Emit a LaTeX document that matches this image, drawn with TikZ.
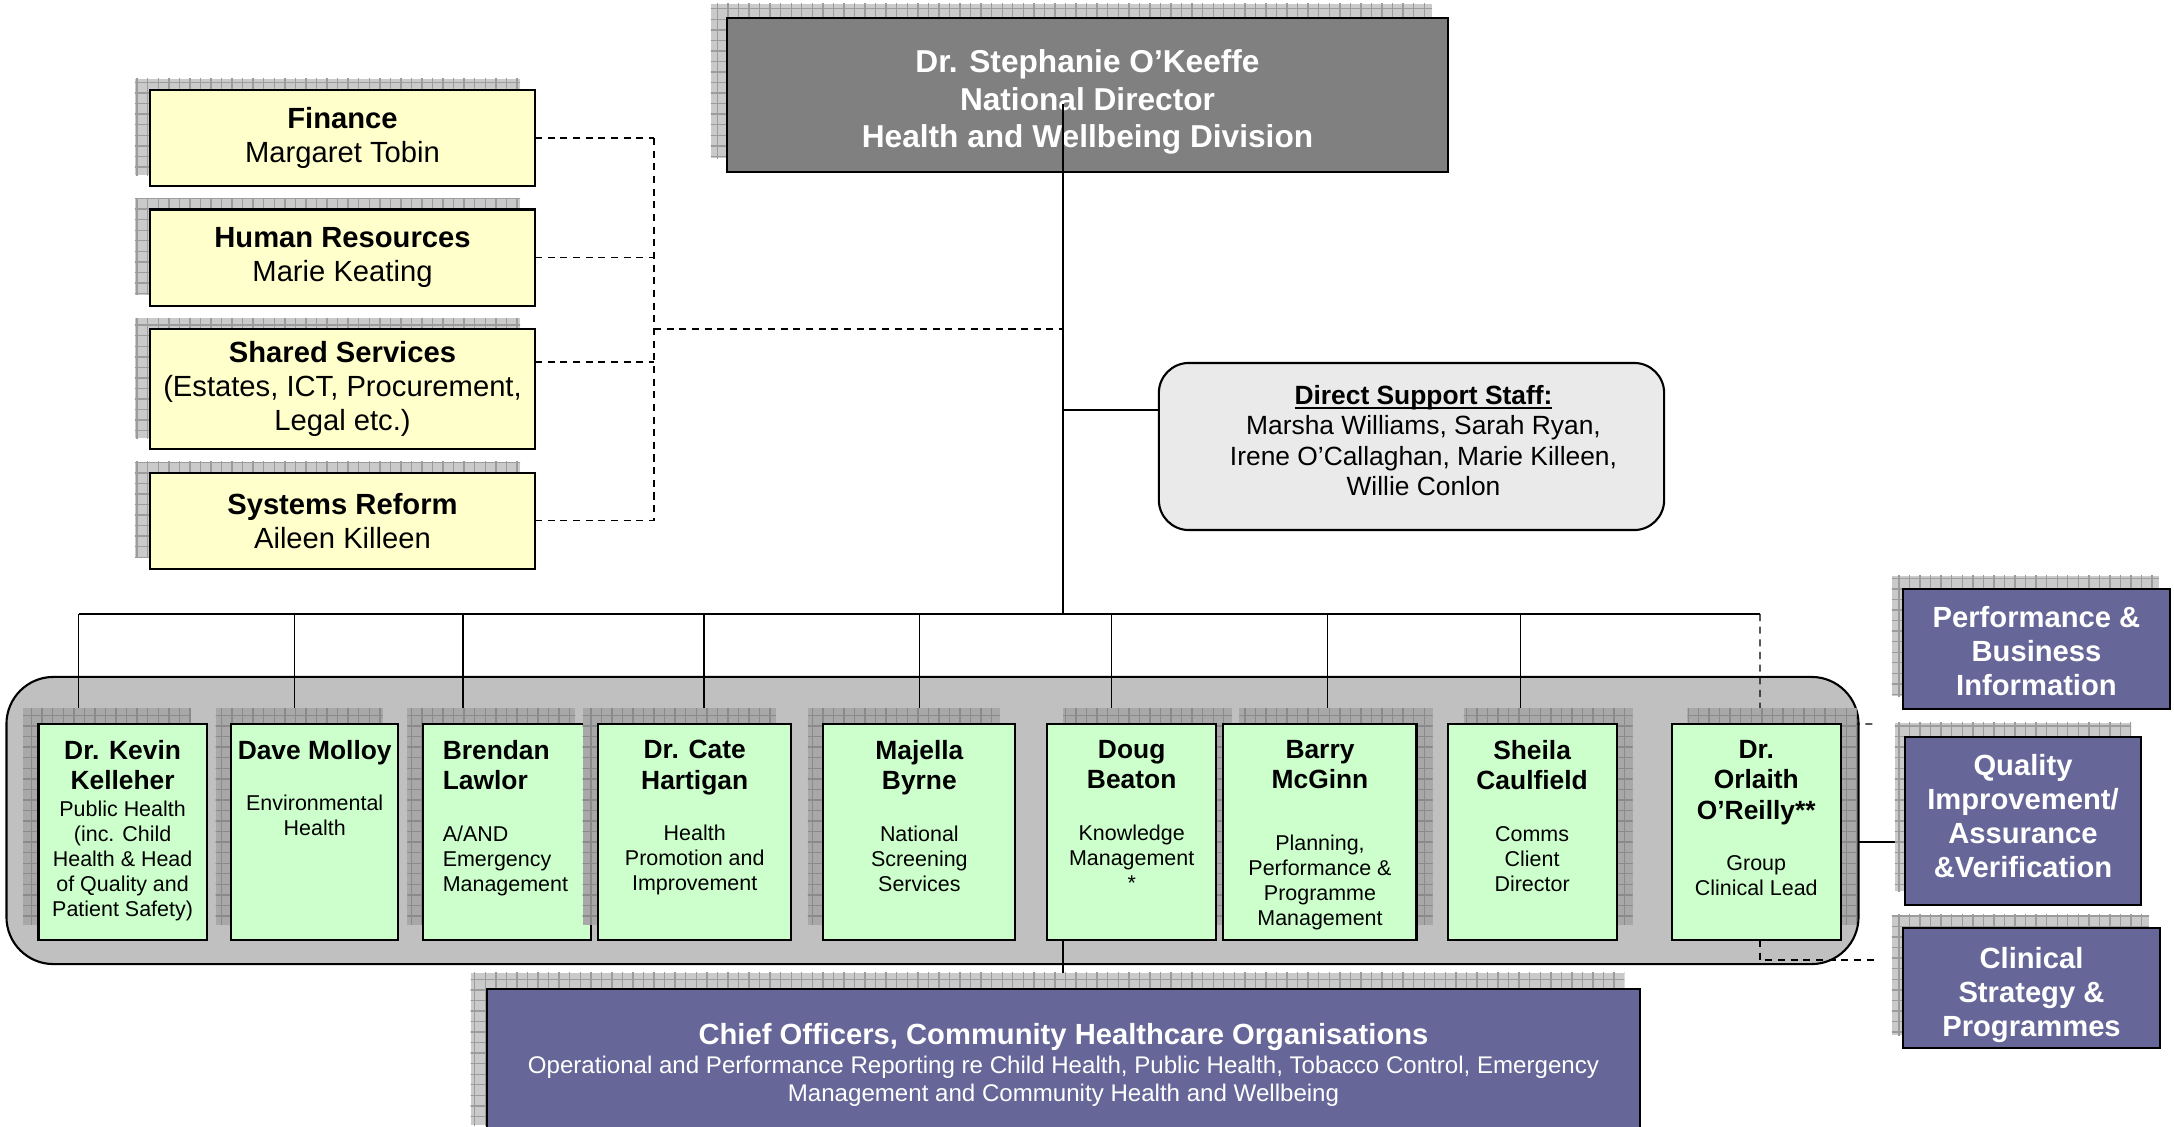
\documentclass[tikz,border=0pt]{standalone}
\usepackage{fontspec}
\setmainfont{Liberation Sans}
\usepackage{xcolor}
\usepackage{tikz}
\usetikzlibrary{positioning}
\usetikzlibrary{shadows}
\usetikzlibrary{patterns}

\definecolor{dirgray}{HTML}{808080}
\definecolor{supyellow}{HTML}{FFFFCC}
\definecolor{leadgreen}{HTML}{CCFFCC}
\definecolor{bandgray}{HTML}{C0C0C0}
\definecolor{staffgray}{HTML}{EAEAEA}
\definecolor{unitpurple}{HTML}{666699}
\definecolor{shadelight}{HTML}{CACACA}
\definecolor{shadedark}{HTML}{A8A8A8}
\definecolor{shadeline}{HTML}{9C9C9C}
\definecolor{shadelinedk}{HTML}{8A8A8A}

\pgfdeclarelayer{band}
\pgfdeclarelayer{links}
\pgfsetlayers{band,links,main}

\newcommand{\namefont}{\fontsize{7.5}{8.6}\selectfont\bfseries}
\newcommand{\rolefont}{\fontsize{6.1}{7.1}\selectfont}
\newcommand{\underrule}[1]{\setbox0=\hbox{#1}\rlap{\rule[-1.3pt]{\wd0}{0.45pt}}\box0}

\begin{document}
\begin{tikzpicture}[x=0.01cm, y=-0.01cm, node distance=0.235cm, line width=0.45pt, outer sep=0pt,
	boxshade/.style 2 args={general shadow={shadow xshift=#1, shadow yshift=#2, fill=shadelight},
		general shadow={shadow xshift=#1, shadow yshift=#2, pattern=grid, pattern color=shadeline}},
	ldrshade/.style={general shadow={shadow xshift=#1, shadow yshift=0.155cm, fill=shadedark},
		general shadow={shadow xshift=#1, shadow yshift=0.155cm, pattern=grid, pattern color=shadelinedk}},
	dirbox/.style={draw, line width=0.6pt, fill=dirgray, minimum width=7.21cm, minimum height=1.54cm},
	dirtxt/.style={text=white, align=center, font=\fontsize{9}{10.7}\selectfont\bfseries},
	supbox/.style={draw, line width=0.6pt, fill=supyellow, align=center, inner sep=1pt,
		font=\fontsize{8.3}{9.7}\selectfont, minimum width=3.85cm, minimum height=0.96cm,
		boxshade={-0.15cm}{0.11cm}},
	staffbox/.style={draw, line width=0.6pt, fill=staffgray, rounded corners=0.3cm,
		minimum width=5.05cm, minimum height=1.67cm},
	stafftxt/.style={align=center, font=\fontsize{7.5}{8.7}\selectfont},
	bandbox/.style={draw, line width=0.6pt, fill=bandgray, rounded corners=0.47cm,
		minimum width=18.51cm, minimum height=2.87cm},
	ldrbox/.style={draw, line width=0.6pt, fill=leadgreen, minimum height=2.16cm},
	ldrtxt/.style={inner sep=0pt, align=flush center},
	unitbox/.style={draw, line width=0.6pt, fill=unitpurple},
	unittxt/.style={text=white, align=center, font=\fontsize{8.3}{9.6}\selectfont\bfseries},
	dline/.style={dash pattern=on 2pt off 1.6pt},
]
\useasboundingbox (0,0) rectangle (2174,1127);
\clip (0,0) rectangle (2174,1127);

% director and support functions
\node [dirbox, boxshade={-0.16cm}{0.14cm}] (dir) at (1087.5,95) {};
\node [dirtxt] (dirt) at ([yshift=-0.07cm]dir.center)
	{Dr. Stephanie O’Keeffe\\National Director\\Health and Wellbeing Division};
\node [supbox] (fin) at (342.5,138) {\textbf{Finance}\\Margaret Tobin};
\node [supbox] (hr) [below=of fin] {\textbf{Human Resources}\\Marie Keating};
\node [supbox, minimum height=1.2cm] (shs) [below=of hr]
	{\textbf{Shared Services}\\(Estates, ICT, Procurement,\\Legal etc.)};
\node [supbox] (sys) [below=of shs] {\textbf{Systems Reform}\\Aileen Killeen};
\node [staffbox] (dss) at (1411.5,446.5) {};
\node [stafftxt] (dsst) at ([xshift=0.12cm,yshift=0.06cm]dss.center)
	{\underrule{\textbf{Direct Support Staff:}}\\Marsha Williams, Sarah Ryan,\\Irene O’Callaghan, Marie Killeen,\\Willie Conlon};

% assistant national directors
\begin{pgfonlayer}{band}
\node [bandbox] (ldrs) at (932.5,820.5) {};
\end{pgfonlayer}
\node [ldrbox, minimum width=1.68cm, ldrshade=-0.155cm] (kel) at (122.6,832) {};
\node [ldrbox, minimum width=1.67cm, ldrshade=-0.155cm] (mol) [right=0.245cm of kel] {};
\node [ldrbox, minimum width=1.68cm, ldrshade=-0.155cm] (law) [right=0.245cm of mol] {};
\node [ldrbox, minimum width=1.93cm, ldrshade=-0.155cm] (har) [right=0.073cm of law] {};
\node [ldrbox, minimum width=1.92cm, ldrshade=-0.155cm] (byr) [right=0.32cm of har] {};
\node [ldrbox, minimum width=1.69cm, ldrshade=0.16cm] (bea) [right=0.317cm of byr] {};
\node [ldrbox, minimum width=1.93cm, ldrshade=0.16cm] (mcg) [right=0.072cm of bea] {};
\node [ldrbox, minimum width=1.69cm, ldrshade=0.16cm] (cau) [right=0.31cm of mcg] {};
\node [ldrbox, minimum width=1.69cm, ldrshade=0.16cm] (ore) [right=0.55cm of cau] {};
%
\node [ldrtxt, text width=1.62cm, below=4.7pt of kel.north] (kelt)
	{{\namefont Dr. Kevin\\Kelleher\par}\vspace{0.4pt}{\rolefont Public Health\\(inc. Child\\Health \& Head\\of Quality and\\Patient Safety)\par}};
\node [ldrtxt, text width=1.64cm, below=4.7pt of mol.north] (molt)
	{{\namefont Dave Molloy\par}\vspace{7.5pt}{\rolefont Environmental\\Health\par}};
\node [ldrtxt, align=flush left, text width=1.28cm, below=4.7pt of law.north] (lawt)
	{{\namefont Brendan\\Lawlor\par}\vspace{7.5pt}{\rolefont A/AND\\Emergency\\Management\par}};
\node [ldrtxt, text width=1.85cm, below=4.7pt of har.north] (hart)
	{{\namefont Dr. Cate\\Hartigan\par}\vspace{7.5pt}{\rolefont Health\\Promotion and\\Improvement\par}};
\node [ldrtxt, text width=1.84cm, below=4.7pt of byr.north] (byrt)
	{{\namefont Majella\\Byrne\par}\vspace{7.5pt}{\rolefont National\\Screening\\Services\par}};
\node [ldrtxt, text width=1.61cm, below=4.7pt of bea.north] (beat)
	{{\namefont Doug\\Beaton\par}\vspace{7.5pt}{\rolefont Knowledge\\Management\\{}*\par}};
\node [ldrtxt, text width=1.85cm, below=4.7pt of mcg.north] (mcgt)
	{{\namefont Barry\\McGinn\par}\vspace{10.4pt}{\rolefont Planning,\\Performance \&\\Programme\\Management\par}};
\node [ldrtxt, text width=1.61cm, below=4.7pt of cau.north] (caut)
	{{\namefont Sheila\\Caulfield\par}\vspace{7.5pt}{\rolefont Comms\\Client\\Director\par}};
\node [ldrtxt, text width=1.61cm, below=4.7pt of ore.north] (oret)
	{{\namefont Dr.\\Orlaith\\O’Reilly**\par}\vspace{7.5pt}{\rolefont Group\\Clinical Lead\par}};

% clinical units and community healthcare
\node [unitbox, minimum width=2.67cm, minimum height=1.2cm, boxshade={-0.11cm}{0.13cm}] (pbi) at (2036.5,649) {};
\node [unittxt] (pbit) at ([yshift=-0.02cm]pbi.center) {Performance \&\\Business\\Information};
\node [unitbox, minimum width=2.36cm, minimum height=1.68cm, boxshade={-0.1cm}{0.14cm}] (qia) at (2023,821) {};
\node [unittxt] (qiat) at ([yshift=0.05cm]qia.center) {Quality\\Improvement/\\Assurance\\\&Verification};
\node [unitbox, minimum width=2.57cm, minimum height=1.2cm, boxshade={-0.11cm}{0.13cm}] (csp) at (2031.5,988) {};
\node [unittxt] (cspt) at ([yshift=-0.07cm]csp.center) {Clinical\\Strategy \&\\Programmes};
\node [unitbox, unittxt, align=flush center, anchor=north, text width=11.45cm, inner sep=0.04cm,
	minimum height=1.52cm, boxshade={-0.16cm}{0.16cm}] (cho) at (1063.5,989)
	{{Chief Officers, Community Healthcare Organisations\par}\vspace{0.3pt}%
	{\fontsize{6.85}{8}\selectfont\mdseries Operational and Performance Reporting re Child Health, Public Health, Tobacco Control, Emergency\\Management and Community Health and Wellbeing\par}};

\coordinate (dtop) at (1063,104);
\coordinate (busL) at (78.6,614);
\coordinate (busR) at (1760,614);
\coordinate (dj) at (654,329);
\coordinate (pbistub) at (1877,724);
\coordinate (cspstub) at (1878,960);

\draw (dtop) -- (dtop |- busL);
\begin{pgfonlayer}{links}
\draw [dline] (fin.east) -- (fin.east -| dj);
\draw [dline] (hr.east) -- (hr.east -| dj);
\draw [dline] ([yshift=0.27cm]shs.east) -- ([yshift=0.27cm]shs.east -| dj);
\draw [dline] (sys.east) -- (sys.east -| dj);
\draw [dline] (fin.east -| dj) -- (sys.east -| dj);
\draw [dline] (dj) -- (dj -| dtop);
\draw ([yshift=0.365cm]dss.west) -- ([yshift=0.365cm]dss.west -| dtop);
%
\draw (busL) -- (busR);
\draw ([xshift=-0.44cm]kel.north |- busL) -- ([xshift=-0.44cm]kel.north);
\draw ([xshift=-0.2cm]mol.north |- busL) -- ([xshift=-0.2cm]mol.north);
\draw ([xshift=-0.436cm]law.north |- busL) -- ([xshift=-0.436cm]law.north);
\draw ([xshift=0.092cm]har.north |- busL) -- ([xshift=0.092cm]har.north);
\draw (byr.north |- busL) -- (byr.north);
\draw ([xshift=-0.2cm]bea.north |- busL) -- ([xshift=-0.2cm]bea.north);
\draw ([xshift=0.077cm]mcg.north |- busL) -- ([xshift=0.077cm]mcg.north);
\draw ([xshift=-0.118cm]cau.north |- busL) -- ([xshift=-0.118cm]cau.north);
\draw [dline] (busR) -- (busR |- ore.north) -- (pbistub);
\draw [dline] (busR |- ore.south) |- (cspstub);
\draw ([yshift=-0.21cm]qia.west) -- ([yshift=-0.21cm]qia.west -| ldrs.east);
\draw (bea.south -| dtop) -- (cho.north -| dtop);
\end{pgfonlayer}
\end{tikzpicture}
\end{document}
